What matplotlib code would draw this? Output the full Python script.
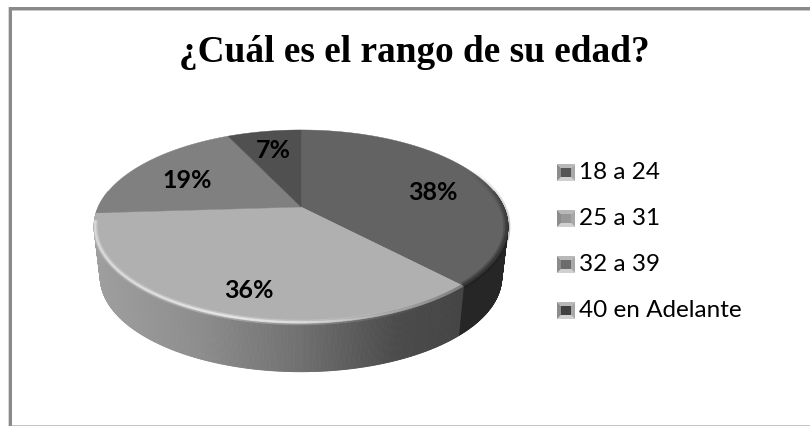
import numpy as np
import matplotlib
matplotlib.use('Agg')
import matplotlib.pyplot as plt
from matplotlib.patches import Polygon, Rectangle
from matplotlib.collections import PolyCollection, LineCollection

title = '¿Cuál es el rango de su edad?'
categories = ['18 a 24', '25 a 31', '32 a 39', '40 en Adelante']
values = [38, 36, 19, 7]
labels = ['38%', '36%', '19%', '7%']

slice_colors = ['#636363', '#b0b0b0', '#808080', '#505050']
icon_colors = ['#555555', '#989898', '#6c6c6c', '#404040']
label_xy = [(433, 192), (249, 291), (187, 181), (273, 150)]

# pie geometry, in picture pixels
cx, apex_y = 301, 207
k, a, b = 0.202, 92.6, 202.7
depth_scale, depth = 0.98, 51


def top_face(theta):
    X, Y = np.sin(theta), np.cos(theta)
    d = 1 + k * Y
    return b * X / d, a * Y / d


def top_xy(theta):
    x, v = top_face(theta)
    return np.column_stack([cx + x, apex_y - v])


def low_xy(theta):
    x, v = top_face(theta)
    return np.column_stack([cx + 0.97 * x, apex_y - depth_scale * v + depth])


def edge_band(theta, alpha, rgb, width, inset=1.0):
    # soft stroke just inside the rim of the top face
    x, v = top_face(theta)
    s = 1 - inset / 200.0
    pts = np.column_stack([cx + s * x, apex_y - s * v])
    segs = [[pts[i], pts[i + 1]] for i in range(len(pts) - 1)]
    rgba = [rgb + (q,) for q in alpha[:-1]]
    ax.add_collection(LineCollection(segs, colors=rgba, linewidths=width * 0.72, zorder=4, capstyle='butt'))


fig = plt.figure(figsize=(8.1, 4.26), dpi=100)
ax = fig.add_axes([0, 0, 1, 1])
ax.set_xlim(0, 810)
ax.set_ylim(426, 0)
ax.axis('off')

# outer frame
ax.add_patch(Rectangle((8, 7), 802, 2.5, fc='#8a8a8a', ec='none'))
ax.add_patch(Rectangle((9, 7), 3, 419, fc='#8a8a8a', ec='none'))
ax.add_patch(Rectangle((8, 7), 1, 419, fc='#d8d8d8', ec='none'))
ax.add_patch(Rectangle((12, 9.5), 798, 1, fc='#c8c8c8', ec='none'))
ax.add_patch(Rectangle((12, 425), 798, 1, fc='#c4c4c4', ec='none'))

# rim
edges = np.cumsum([0] + values) / sum(values) * 2 * np.pi
th = np.linspace(np.radians(80), np.radians(280), 500)
tp, lp = top_xy(th), low_xy(th)
quads, cols = [], []
stops_x = [94, 130, 200, 300, 400, 462]
stops_g = [0.62, 0.60, 0.55, 0.44, 0.29, 0.27]
for i in range(len(th) - 1):
    quads.append([tp[i], tp[i + 1], lp[i + 1], lp[i]])
    if th[i] < edges[1]:
        g = 0.15
    else:
        g = np.interp(tp[i, 0], stops_x, stops_g)
    cols.append((g, g, g))
ax.add_collection(PolyCollection(quads, facecolors=cols, edgecolors=cols, linewidths=0.6, zorder=2))

# top faces
apex = np.array([[cx, apex_y]])
for i, c in enumerate(slice_colors):
    t = np.linspace(edges[i], edges[i + 1], 200)
    ax.add_patch(Polygon(np.vstack([apex, top_xy(t)]), closed=True, fc=c, ec=c, lw=0.3, zorder=3))

# bevel along the front edge: light on the big slice, dark on the first one
t_light = np.linspace(edges[1], np.radians(262), 300)
x_light = top_xy(t_light)[:, 0]
glow = np.interp(x_light, [94, 130, 230, 330, 420, 462], [0.55, 0.6, 0.75, 0.55, 0.1, 0.0])
shade = np.interp(x_light, [94, 300, 420, 462], [0.0, 0.0, 0.25, 0.45])
edge_band(t_light, glow * 0.35, (1.0, 1.0, 1.0), 5.5)
edge_band(t_light, glow * 0.8, (1.0, 1.0, 1.0), 2.5)
edge_band(t_light, shade, (0.25, 0.25, 0.25), 4)
t_dark = np.linspace(np.radians(65), edges[1], 150)
dark = np.interp(np.degrees(t_dark), [65, 100, 137], [0.0, 0.5, 0.6])
edge_band(t_dark, dark * 0.5, (0.1, 0.1, 0.1), 7)
edge_band(t_dark, dark, (0.15, 0.15, 0.15), 3)

ax.text(414, 62, title, ha='center', va='baseline', fontsize=26.8,
        fontweight='bold', family='Liberation Serif', color='black')

for (x, y), s in zip(label_xy, labels):
    ax.text(x, y, s, ha='center', va='center', fontsize=18, fontweight='bold',
            family='Lato', color='black', zorder=5)

# legend
for i, (name, c) in enumerate(zip(categories, icon_colors)):
    y = 172.5 + 46 * i
    x0, x1, y0, y1 = 557, 575, y - 8.5, y + 8.5
    m = 4
    ix0, ix1, iy0, iy1 = x0 + m, x1 - m, y0 + m, y1 - m
    ax.add_patch(Polygon([(x0, y0), (x1, y0), (ix1, iy0), (ix0, iy0)], fc='#b8b8b8', ec='none'))
    ax.add_patch(Polygon([(x0, y1), (x1, y1), (ix1, iy1), (ix0, iy1)], fc='#d0d0d0', ec='none'))
    ax.add_patch(Polygon([(x0, y0), (x0, y1), (ix0, iy1), (ix0, iy0)], fc='#8c8c8c', ec='none'))
    ax.add_patch(Polygon([(x1, y0), (x1, y1), (ix1, iy1), (ix1, iy0)], fc='#a8a8a8', ec='none'))
    ax.add_patch(Rectangle((ix0, iy0), ix1 - ix0, iy1 - iy0, fc=c, ec='none'))
    ax.text(579, y, name, ha='left', va='center', fontsize=17.5, family='Lato', color='black')

fig.savefig('out.png', dpi=100)
